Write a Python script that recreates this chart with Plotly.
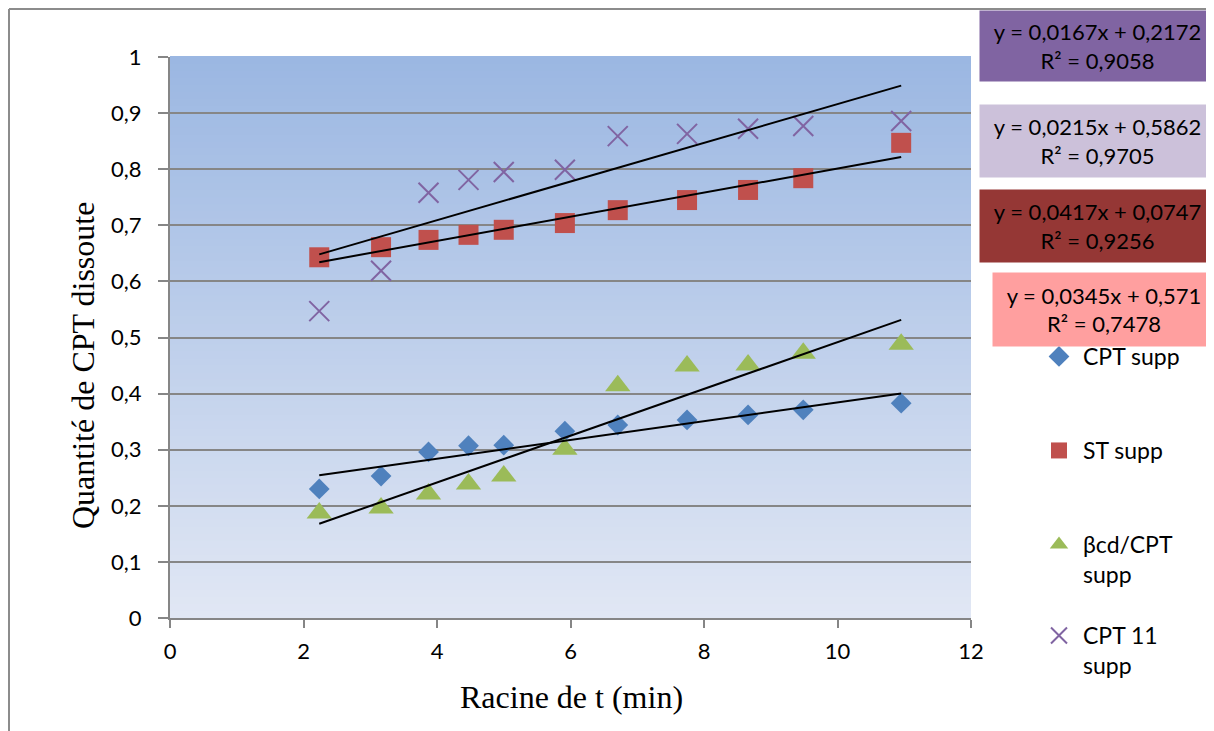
import plotly.graph_objects as go

# ---- data ----
x_vals = [2.236, 3.162, 3.873, 4.472, 5.0, 5.916, 6.708, 7.746, 8.660, 9.487, 10.954]
cpt_supp = [0.230, 0.253, 0.296, 0.307, 0.308, 0.333, 0.344, 0.353, 0.362, 0.371, 0.383]
st_supp = [0.643, 0.661, 0.674, 0.683, 0.692, 0.704, 0.727, 0.745, 0.763, 0.784, 0.847]
bcd_supp = [0.187, 0.196, 0.221, 0.239, 0.253, 0.301, 0.414, 0.449, 0.451, 0.472, 0.488]
cpt11_supp = [0.547, 0.619, 0.758, 0.781, 0.795, 0.799, 0.859, 0.863, 0.872, 0.877, 0.886]

series_names = ["CPT supp", "ST supp", "βcd/CPT<br>supp", "CPT 11<br>supp"]
series_values = [cpt_supp, st_supp, bcd_supp, cpt11_supp]
slopes = [0.0167, 0.0215, 0.0417, 0.0345]
intercepts = [0.2172, 0.5862, 0.0747, 0.571]
eq_texts = ["y = 0,0167x + 0,2172<br>R² = 0,9058",
            "y = 0,0215x + 0,5862<br>R² = 0,9705",
            "y = 0,0417x + 0,0747<br>R² = 0,9256",
            "y = 0,0345x + 0,571<br>R² = 0,7478"]

OFF = 8  # page body margin
W, H = 1206, 723
L, R, T, B = 162, 243, 49, 113
PW, PH = W - L - R, H - T - B

def px(xs):  # screen x -> paper
    return (xs - OFF - L) / PW

def py(ys):  # screen y -> paper
    return (H - B - (ys - OFF)) / PH

colors = ["#4f81bd", "#c0504d", "#9bbb59", "#8064a2"]
symbols = ["diamond", "square", "triangle-up", "x-thin-open"]
sizes = [16, 20, 22, 20]
legend_ids = ["legend", "legend2", "legend3", "legend4"]
legend_marker_y = [357, 451, 545, 636]

fig = go.Figure()
for i, (name, vals) in enumerate(zip(series_names, series_values)):
    mk = dict(color=colors[i], size=sizes[i], symbol=symbols[i])
    if symbols[i] == "x-thin-open":
        mk["line"] = dict(color=colors[i], width=2)
    fig.add_trace(go.Scatter(x=x_vals, y=vals, mode="markers", name=name,
                             marker=mk, legend=legend_ids[i]))

# trendlines
for i in range(4):
    xs = [x_vals[0], x_vals[-1]]
    ys = [slopes[i] * v + intercepts[i] for v in xs]
    fig.add_trace(go.Scatter(x=xs, y=ys, mode="lines", showlegend=False,
                             line=dict(color="black", width=2), hoverinfo="skip"))

# gradient background
shapes = []
n = 80
top = (155, 183, 226)
bot = (225, 231, 244)
for k in range(n):
    f = (k + 0.5) / n
    c = tuple(round(bot[j] + (top[j] - bot[j]) * f) for j in range(3))
    shapes.append(dict(type="rect", xref="x domain", yref="y domain",
                       x0=0, x1=1, y0=k / n, y1=(k + 1) / n + 0.002,
                       fillcolor="rgb(%d,%d,%d)" % c, line=dict(width=0), layer="below"))
# outer border
shapes.append(dict(type="line", xref="paper", yref="paper", x0=px(9), x1=px(1230),
                   y0=py(9), y1=py(9), line=dict(color="#8c8c8c", width=2)))
shapes.append(dict(type="line", xref="paper", yref="paper", x0=px(9), x1=px(9),
                   y0=py(9), y1=py(760), line=dict(color="#8c8c8c", width=2)))

annotations = []
# equation boxes (screen coords)
box_specs = [(979, 10, 80, "#8064a2"), (979, 104, 176, "#ccc1da"),
             (979, 189, 261, "#953735"), (992, 272, 345, "#ff9f9f")]
for (x0, y0, y1, col), txt in zip(box_specs, eq_texts):
    annotations.append(dict(xref="paper", yref="paper", x=px(x0), y=py(y0),
                            xanchor="left", yanchor="top", text=txt, showarrow=False,
                            align="center", bgcolor=col, width=1214 - x0 - 6,
                            height=y1 - y0 - 6, borderpad=3,
                            font=dict(family="Lato, Open Sans", size=22, color="black")))
# axis titles
annotations.append(dict(xref="paper", yref="paper", x=px(571), y=py(697),
                        xanchor="center", yanchor="middle",
                        text="Racine de t (min)", showarrow=False,
                        font=dict(family="Liberation Serif", size=32, color="black")))
annotations.append(dict(xref="paper", yref="paper", x=px(83), y=py(366),
                        xanchor="center", yanchor="middle",
                        text="Quantité de CPT dissoute", showarrow=False, textangle=-90,
                        font=dict(family="Liberation Serif", size=32, color="black")))

legend_common = dict(xanchor="left", yanchor="top",
                     font=dict(family="Lato, Open Sans", size=23, color="black"),
                     valign="top", bgcolor="rgba(0,0,0,0)", itemwidth=38)
layout_legends = {}
for lid, my in zip(legend_ids, legend_marker_y):
    d = dict(legend_common)
    d.update(x=px(1035), y=py(my - 22))
    layout_legends[lid] = d

fig.update_layout(
    width=W, height=H,
    margin=dict(l=L, r=R, t=T, b=B),
    paper_bgcolor="white", plot_bgcolor="white",
    separators=",.",
    shapes=shapes, annotations=annotations,
    font=dict(family="Lato, Open Sans", size=22, color="black"),
    xaxis=dict(range=[0, 12], dtick=2, tick0=0, showgrid=False, zeroline=False,
               showline=True, linecolor="#868686", linewidth=2,
               ticks="outside", ticklen=8, tickwidth=2, tickcolor="#868686",
               tickfont=dict(size=22), ticklabelstandoff=5),
    yaxis=dict(range=[0, 1], dtick=0.1, tick0=0, showgrid=True, gridcolor="#868686",
               gridwidth=1.5, zeroline=False, showline=True, linecolor="#868686",
               linewidth=2, ticks="outside", ticklen=10, tickwidth=2, tickcolor="#868686",
               tickfont=dict(size=22), ticklabelstandoff=12),
    **layout_legends,
)

fig.write_html("out.html")
